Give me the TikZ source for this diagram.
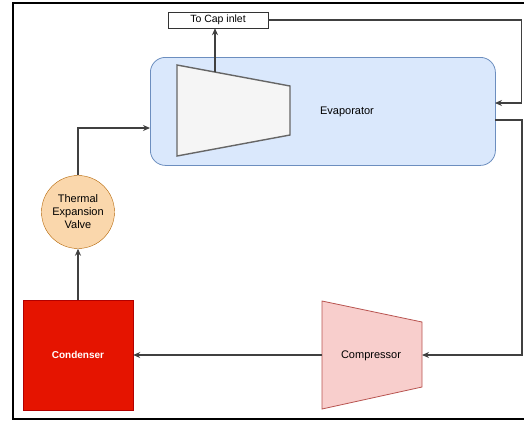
\documentclass[tikz,border=0pt]{standalone}
\usepackage{fontspec}
\setmainfont{Liberation Sans}
\usepackage{tikz}
\usetikzlibrary{positioning,arrows.meta}

\definecolor{evapfill}{HTML}{DAE8FC}
\definecolor{evapline}{HTML}{6C8EBF}
\definecolor{turbfill}{HTML}{F5F5F5}
\definecolor{turbline}{HTML}{666666}
\definecolor{compfill}{HTML}{F8CECC}
\definecolor{compline}{HTML}{B85450}
\definecolor{condfill}{HTML}{E51400}
\definecolor{condline}{HTML}{B20000}
\definecolor{tevfill}{HTML}{FAD7AC}
\definecolor{tevline}{HTML}{B46504}

\begin{document}
\begin{tikzpicture}[x=1pt,y=-1pt,font=\fontsize{11}{13}\selectfont,
  flow/.style={->,>={Stealth[length=7,width=6]},line width=1.1,draw=black!75}]
  \useasboundingbox (0,0) rectangle (524,421);
  \draw[line width=1.5] (524,3) -- (13,3) -- (13,419) -- (524,419);

  % evaporator with its inner trapezoid
  \node[draw=evapline, fill=evapfill, rounded corners=15, line width=0.8,
    minimum width=345, minimum height=108, anchor=north west] (evap) at (150,57) {};
  \draw[draw=turbline, fill=turbfill, line width=1.4] (177,65) -- (290,86) -- (290,135) -- (177,156) -- cycle;
  \node (evaplabel) at (347,112) {Evaporator};
  \coordinate (turbtop) at (215,72);
  \coordinate (evapin) at (150,128);
  \coordinate (evapret) at (495,103);
  \coordinate (evapout) at (495,120);

  \node[draw=black!80, minimum width=100, minimum height=16, inner sep=0,
    font=\fontsize{10.5}{12}\selectfont] (cap) at (218,20) {To Cap inlet};

  % compressor
  \draw[draw=compline, fill=compfill, line width=0.8] (322,301) -- (422,322) -- (422,387) -- (322,409) -- cycle;
  \node (comp) at (371,356) {Compressor};
  \coordinate (compin) at (422,355);
  \coordinate (compout) at (322,355);

  \node[draw=condline, fill=condfill, minimum size=110, text=white,
    font=\fontsize{10}{12}\selectfont\bfseries] (cond) at (78,355) {Condenser};
  \node[circle, draw=tevline, fill=tevfill, minimum size=73, align=center, inner sep=0] (tev) at (78,212)
    {Thermal\\Expansion\\Valve};

  \draw[flow] (turbtop) -- (turbtop |- cap.south);
  \draw[flow] (cap.east) -- ++(253,0) |- (evapret);
  \draw[flow] (evapout) -- ++(27,0) |- (compin);
  \draw[flow] (compout) -- (cond.east);
  \draw[flow] (cond) -- (tev);
  \draw[flow] (tev) |- (evapin);
\end{tikzpicture}
\end{document}
